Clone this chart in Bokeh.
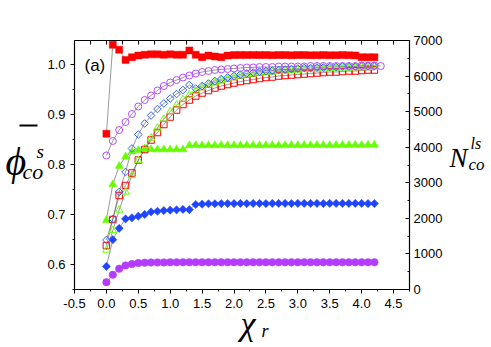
from bokeh.plotting import figure
from bokeh.models import (Range1d, LinearAxis, FixedTicker, PrintfTickFormatter,
                          CustomJSTickFormatter, Label, BoxAnnotation)
from bokeh.embed import file_html
from bokeh.resources import INLINE

# ---------------- data ----------------
x = [0.0, 0.1, 0.2, 0.3, 0.4, 0.5, 0.6, 0.7, 0.8, 0.9, 1.0, 1.1, 1.2, 1.3, 1.4,
     1.5, 1.6, 1.7, 1.8, 1.9, 2.0, 2.1, 2.2, 2.3, 2.4, 2.5, 2.6, 2.7, 2.8, 2.9,
     3.0, 3.1, 3.2, 3.3, 3.4, 3.5, 3.6, 3.7, 3.8, 3.9, 4.0, 4.1, 4.2]
x_circ = [0.0, 0.1, 0.2, 0.3, 0.4, 0.5, 0.6, 0.7, 0.8, 0.9, 1.0, 1.1, 1.2, 1.3, 1.4,
          1.5, 1.6, 1.7, 1.8, 1.9, 2.0, 2.1, 2.2, 2.3, 2.4, 2.5, 2.6, 2.7, 2.8, 2.9,
          3.0, 3.1, 3.2, 3.3, 3.4, 3.5, 3.6, 3.7, 3.8, 3.9, 4.0, 4.1, 4.2, 4.3]

# phi (left axis), open symbols
phi_circle = [0.818, 0.847, 0.869, 0.885, 0.901, 0.916, 0.929, 0.938, 0.948, 0.957,
              0.964, 0.969, 0.974, 0.978, 0.982, 0.985, 0.987, 0.989, 0.990, 0.991,
              0.992, 0.993, 0.994, 0.994, 0.995, 0.995, 0.995, 0.996, 0.996, 0.996,
              0.996, 0.996, 0.997, 0.997, 0.997, 0.997, 0.997, 0.997, 0.997, 0.997,
              0.998, 0.998, 0.998, 0.997]
phi_diamond = [0.649, 0.691, 0.745, 0.785, 0.832, 0.860, 0.882, 0.898, 0.911, 0.922,
               0.932, 0.941, 0.949, 0.959, 0.952, 0.957, 0.962, 0.967, 0.971, 0.974,
               0.977, 0.980, 0.982, 0.984, 0.986, 0.987, 0.988, 0.989, 0.990, 0.991,
               0.992, 0.993, 0.993, 0.994, 0.994, 0.995, 0.995, 0.996, 0.996, 0.996,
               0.997, 0.997, 0.997]
phi_triangle = [0.629, 0.668, 0.709, 0.745, 0.778, 0.808, 0.832, 0.853, 0.873, 0.891,
                0.906, 0.919, 0.930, 0.939, 0.947, 0.954, 0.959, 0.964, 0.968, 0.971,
                0.974, 0.977, 0.979, 0.981, 0.983, 0.984, 0.985, 0.986, 0.987, 0.988,
                0.989, 0.990, 0.990, 0.991, 0.991, 0.992, 0.992, 0.993, 0.993, 0.994,
                0.994, 0.994, 0.995]
phi_square = [0.638, 0.690, 0.738, 0.758, 0.783, 0.809, 0.830, 0.849, 0.864, 0.880,
              0.895, 0.909, 0.920, 0.929, 0.937, 0.943, 0.948, 0.953, 0.957, 0.960,
              0.963, 0.966, 0.968, 0.970, 0.972, 0.974, 0.975, 0.977, 0.978, 0.979,
              0.980, 0.981, 0.982, 0.983, 0.984, 0.985, 0.985, 0.986, 0.987, 0.987,
              0.988, 0.989, 0.989]

# N (right axis), filled symbols
n_square = [4380, 6880, 6740, 6455, 6530, 6575, 6600, 6610, 6610, 6600,
            6610, 6600, 6600, 6720, 6600, 6530, 6575, 6550, 6530, 6575,
            6590, 6595, 6590, 6595, 6590, 6590, 6585, 6590, 6590, 6585,
            6590, 6590, 6585, 6585, 6590, 6585, 6585, 6590, 6585, 6580,
            6530, 6530, 6530]
n_triangle = [1950, 2955, 3470, 3735, 3875, 3915, 3935, 3940, 3935, 3940,
              3935, 3940, 3935, 4050, 4055, 4050, 4055, 4050, 4055, 4050,
              4055, 4050, 4055, 4055, 4050, 4055, 4055, 4050, 4055, 4060,
              4055, 4060, 4055, 4060, 4060, 4055, 4060, 4060, 4060, 4065,
              4060, 4065, 4065]
n_diamond = [650, 1400, 1720, 1985, 2015, 2060, 2110, 2180, 2200, 2220,
             2230, 2240, 2250, 2245, 2390, 2400, 2410, 2410, 2415, 2415,
             2415, 2420, 2415, 2420, 2420, 2415, 2420, 2420, 2420, 2415,
             2420, 2420, 2420, 2420, 2415, 2420, 2420, 2420, 2420, 2420,
             2420, 2415, 2415]
n_circle = [206, 414, 584, 677, 715, 743, 755, 760, 762, 762,
            763, 763, 763, 763, 764, 764, 764, 764, 764, 764,
            764, 764, 764, 764, 764, 764, 764, 764, 764, 764,
            764, 764, 764, 764, 764, 764, 764, 764, 764, 764,
            764, 764, 764]

x_ticks = [-0.5, 0.0, 0.5, 1.0, 1.5, 2.0, 2.5, 3.0, 3.5, 4.0, 4.5]
x_minor = [-0.25, 0.25, 0.75, 1.25, 1.75, 2.25, 2.75, 3.25, 3.75, 4.25, 4.75]
y_ticks = [0.6, 0.7, 0.8, 0.9, 1.0]
y_minor = [0.55, 0.65, 0.75, 0.85, 0.95]
n_ticks = [0, 1000, 2000, 3000, 4000, 5000, 6000, 7000]
n_minor = [500, 1500, 2500, 3500, 4500, 5500, 6500]

# axis extents of the plotted box
X0, X1 = -0.5, 4.75
Y0, Y1 = 0.55, 1.048
N0, N1 = 0, 7000

# ---------------- layout (page pixels) ----------------
W, H = 491, 347
BOX_L, BOX_R, BOX_T, BOX_B = 74, 409, 40, 289   # plot box in page pixels
PX_L, PX_T = 0, 0
PX_R, PX_B = PX_L + W, PX_T + H

sx = (X1 - X0) / (BOX_R - BOX_L)
sy = (Y1 - Y0) / (BOX_B - BOX_T)
sn = (N1 - N0) / (BOX_B - BOX_T)
xr = Range1d(X0 - (BOX_L - PX_L) * sx, X1 + (PX_R - BOX_R) * sx)
yr = Range1d(Y0 - (PX_B - BOX_B) * sy, Y1 + (BOX_T - PX_T) * sy)
nr = Range1d(N0 - (PX_B - BOX_B) * sn, N1 + (BOX_T - PX_T) * sn)

p = figure(width=W, height=H, x_range=xr, y_range=yr,
           output_backend="svg", toolbar_location=None,
           min_border_left=0, min_border_right=0, min_border_top=0, min_border_bottom=0)
p.extra_y_ranges = {"N": nr}
p.xgrid.visible = False
p.ygrid.visible = False
p.outline_line_color = None
p.background_fill_color = "white"
p.border_fill_color = "white"

TICK_FONT = "Liberation Sans"
SERIF = "Liberation Serif"

def style_axis(ax):
    ax.axis_line_color = "black"
    ax.axis_line_width = 1.2
    ax.major_tick_line_color = "black"
    ax.minor_tick_line_color = "black"
    ax.major_label_text_font = TICK_FONT
    ax.major_label_text_font_size = "13px"
    ax.major_label_text_color = "black"

xa = p.xaxis[0]
xa.ticker = FixedTicker(ticks=x_ticks, minor_ticks=x_minor)
xa.formatter = PrintfTickFormatter(format="%.1f")
xa.fixed_location = Y0
xa.bounds = (X0, X1)
style_axis(xa)
xa.major_tick_out = 4
xa.major_tick_in = 0
xa.minor_tick_out = 2
xa.minor_tick_in = 0
xa.major_label_standoff = 5

ya = p.yaxis[0]
ya.ticker = FixedTicker(ticks=y_ticks, minor_ticks=y_minor)
ya.formatter = PrintfTickFormatter(format="%.1f")
ya.fixed_location = X0
ya.bounds = (Y0, Y1)
style_axis(ya)
ya.major_tick_out = 4
ya.major_tick_in = 0
ya.minor_tick_out = 2
ya.minor_tick_in = 0
ya.major_label_standoff = 5

ra = LinearAxis(y_range_name="N", ticker=FixedTicker(ticks=n_ticks, minor_ticks=n_minor),
                formatter=PrintfTickFormatter(format="%d"),
                fixed_location=X1, bounds=(N0, N1))
style_axis(ra)
ra.major_tick_in = 4
ra.major_tick_out = 0
ra.minor_tick_in = 2
ra.minor_tick_out = 0
ra.major_label_standoff = 4
p.add_layout(ra, "right")

ta = LinearAxis(ticker=FixedTicker(ticks=x_ticks, minor_ticks=x_minor),
                formatter=CustomJSTickFormatter(code="return ''"),
                fixed_location=Y1, bounds=(X0, X1))
style_axis(ta)
ta.major_tick_in = 4
ta.major_tick_out = 0
ta.minor_tick_in = 4
ta.minor_tick_out = 0
ta.major_label_standoff = 0
p.add_layout(ta, "above")

# ---------------- series ----------------
LINE = "#555555"
RED = "#ff0000"
PURPLE = "#b84cff"
MAG = "#b43cff"
BLUE = "#1f45ff"
BLUE_O = "#3060ff"
GREEN = "#66ff00"

p.line(x, n_circle, y_range_name="N", line_color=LINE, line_width=0.6)
p.line(x, n_diamond, y_range_name="N", line_color=LINE, line_width=0.6)
p.line(x, n_triangle, y_range_name="N", line_color=LINE, line_width=0.6)
p.line(x, n_square, y_range_name="N", line_color=LINE, line_width=0.6)
p.line(x, phi_square, line_color=LINE, line_width=0.6)
p.line(x, phi_triangle, line_color=LINE, line_width=0.6)
p.line(x, phi_diamond, line_color=LINE, line_width=0.6)
p.line(x_circ, phi_circle, line_color=LINE, line_width=0.6)

ANG = 0.7853981634
p.scatter(x, n_circle, y_range_name="N", marker="circle", size=7.5,
          fill_color=MAG, line_color=MAG, line_width=0.5)
p.scatter(x, n_diamond, y_range_name="N", marker="square", angle=ANG, size=5.8,
          fill_color=BLUE, line_color=BLUE, line_width=0.5)
p.scatter(x, n_triangle, y_range_name="N", marker="triangle", size=8,
          fill_color=GREEN, line_color=GREEN, line_width=0.5)
p.scatter(x, n_square, y_range_name="N", marker="square", size=7,
          fill_color=RED, line_color=RED, line_width=0.5)
p.scatter(x, phi_square, marker="square", size=6.5,
          fill_color=None, line_color=RED, line_width=1)
p.scatter(x, phi_triangle, marker="triangle", size=7.5,
          fill_color=None, line_color=GREEN, line_width=1)
p.scatter(x, phi_diamond, marker="square", angle=ANG, size=5.4,
          fill_color=None, line_color=BLUE_O, line_width=1)
p.scatter(x_circ, phi_circle, marker="circle", size=7,
          fill_color=None, line_color=PURPLE, line_width=1)

# ---------------- text labels (positioned in page pixels) ----------------
def dx(cx):
    return X0 + (cx - BOX_L) * sx

def dy(cy):
    return Y1 - (cy - BOX_T) * sy

def lab(cx, cy, text, size, font=SERIF, style="italic"):
    p.add_layout(Label(x=dx(cx), y=dy(cy), text=text, text_font=font,
                       text_font_style=style, text_font_size=size,
                       text_baseline="alphabetic", text_align="left",
                       text_color="black"))

# left axis title: phi-bar _co ^s
lab(5, 161, "ϕ", "40px")
p.add_layout(BoxAnnotation(left=dx(19), right=dx(37), top=dy(124), bottom=dy(126),
                           fill_color="black", fill_alpha=1, line_color=None))
lab(36, 151, "s", "19px")
lab(22, 171, "co", "22px")

# right axis title: N _co ^ls
lab(449, 157, "N", "27px")
lab(470, 143, "ls", "16px")
lab(468, 164, "co", "17px")

# x axis title: chi_r
lab(240, 323, "χ", "34px")
lab(261, 330, "r", "18px")

# panel label
lab(84, 65, "(a)", "17px", font=TICK_FONT, style="normal")

open("out.html", "w").write(file_html(p, INLINE))
